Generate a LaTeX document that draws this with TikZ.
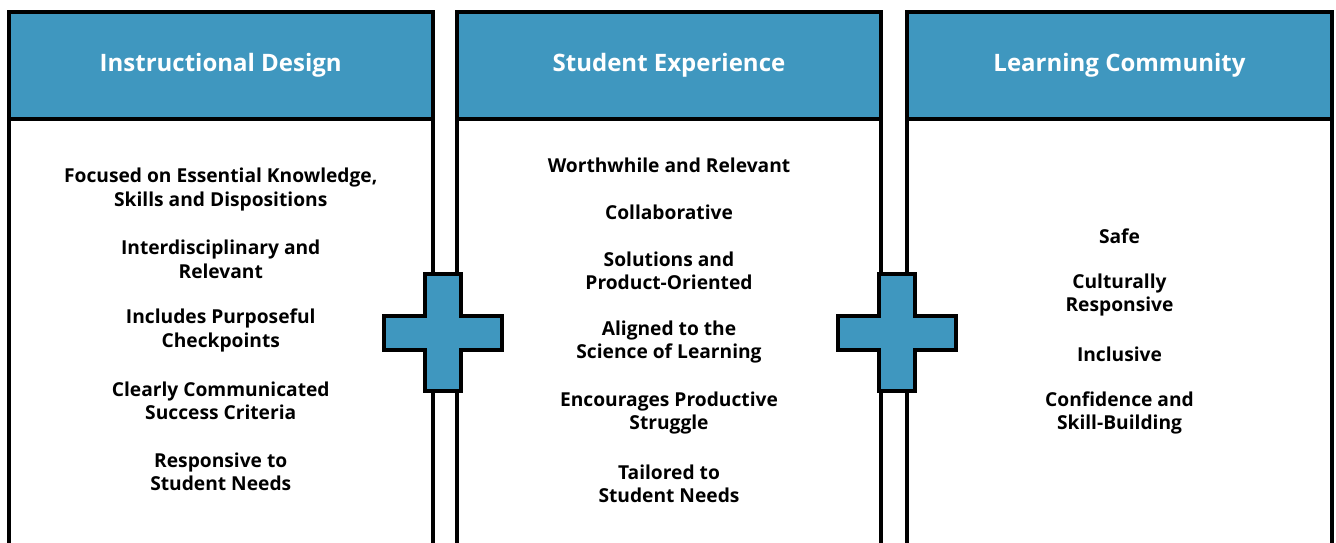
\documentclass[tikz,border=0pt]{standalone}
\usepackage{fontspec}
\setmainfont{Open Sans}
\definecolor{hdrblue}{RGB}{63,151,191}
\begin{document}
\begin{tikzpicture}[x=1pt,y=-1pt,
  boxline/.style={draw=black,line width=4pt,outer sep=0pt,inner sep=0pt},
  hdrbox/.style={boxline,fill=hdrblue,minimum width=424.5pt,minimum height=107pt,anchor=north,
    font=\bfseries\fontsize{24}{28}\selectfont,text=white},
  bodybox/.style={boxline,fill=white,minimum width=424.5pt,minimum height=480pt,anchor=north},
  item/.style={font=\bfseries\fontsize{19.2}{23.5}\selectfont,align=center,text=black},
  plus/.style={fill=hdrblue,draw=black,line width=4pt,line join=miter}]
\useasboundingbox (0,0) rectangle (1336,542);
\clip (0,0) rectangle (1336,542);
% columns
\node[hdrbox] (h1) at (220.75,12) {Instructional Design};
\node[bodybox] (b1) at (h1.south) {};
\node[hdrbox] (h2) at (669,12) {Student Experience};
\node[bodybox] (b2) at (h2.south) {};
\node[hdrbox] (h3) at (1119.5,12) {Learning Community};
\node[bodybox] (b3) at (h3.south) {};
% column 1
\node[item] (a1) at (220.75,189.5) {Focused on Essential Knowledge,\\Skills and Dispositions};
\node[item] (a2) at (220.75,259.5) {Interdisciplinary and\\Relevant};
\node[item] (a3) at (220.75,330.5) {Includes Purposeful\\Checkpoints};
\node[item] (a4) at (220.75,401) {Clearly Communicated\\Success Criteria};
\node[item] (a5) at (220.75,472) {Responsive to\\Student Needs};
% column 2
\node[item] (s1) at (669,165) {Worthwhile and Relevant};
\node[item] (s2) at (669,212) {Collaborative};
\node[item] (s3) at (669,271) {Solutions and\\Product-Oriented};
\node[item] (s4) at (669,342) {Aligned to the\\Science of Learning};
\node[item] (s5) at (669,413) {Encourages Productive\\Struggle};
\node[item] (s6) at (669,484) {Tailored to\\Student Needs};
% column 3
\node[item] (c1) at (1119.5,236) {Safe};
\node[item] (c2) at (1119.5,295) {Culturally\\Responsive};
\node[item] (c3) at (1119.5,354) {Inclusive};
\node[item] (c4) at (1119.5,413) {Confidence and\\Skill-Building};
% plus signs
\foreach \px/\nm in {443/p1,897/p2}{
  \coordinate (\nm) at (\px,332.5);
  \draw[plus,shift={(\px,332.5)}] (-18,-58.5) -- (18,-58.5) -- (18,-17) -- (59,-17) -- (59,17) -- (18,17)
    -- (18,58.5) -- (-18,58.5) -- (-18,17) -- (-59,17) -- (-59,-17) -- (-18,-17) -- cycle;
}
\end{tikzpicture}
\end{document}
